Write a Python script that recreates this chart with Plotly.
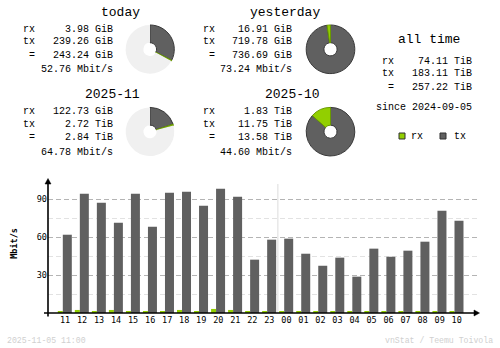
import plotly.graph_objects as go

W, H = 500, 348

# ---------------- data ----------------
hours = ["11", "12", "13", "14", "15", "16", "17", "18", "19", "20", "21", "22",
         "23", "00", "01", "02", "03", "04", "05", "06", "07", "08", "09", "10"]
rx_rate = [0.8, 2.4, 1.6, 2.4, 1.6, 1.6, 1.6, 2.4, 1.6, 3.2, 2.4, 0.8,
           0.8, 1.6, 0.8, 0.8, 0.8, 0.8, 0.8, 0.8, 0.8, 1.6, 1.6, 1.6]
tx_rate = [61.8, 94.2, 87.1, 71.3, 94.2, 68.1, 95.0, 95.8, 84.7, 98.1, 91.8, 42.1,
           57.9, 58.7, 46.8, 37.3, 43.7, 28.7, 50.8, 44.4, 49.2, 56.3, 80.8, 72.9]
y_ticks = [30, 60, 90]
y_minor = [15, 45, 75]

period_titles = ["today", "yesterday", "2025-11", "2025-10"]
period_rx_txt = ["3.98 GiB", "16.91 GiB", "122.73 GiB", "1.83 TiB"]
period_tx_txt = ["239.26 GiB", "719.78 GiB", "2.72 TiB", "11.75 TiB"]
period_tot_txt = ["243.24 GiB", "736.69 GiB", "2.84 TiB", "13.58 TiB"]
period_rate_txt = ["52.76 Mbit/s", "73.24 Mbit/s", "64.78 Mbit/s", "44.60 Mbit/s"]
# values in GiB for pies
period_rx_gib = [3.98, 16.91, 122.73, 1.83 * 1024]
period_tx_gib = [239.26, 719.78, 2.72 * 1024, 11.75 * 1024]

alltime_rx = "74.11 TiB"
alltime_tx = "183.11 TiB"
alltime_tot = "257.22 TiB"
since_txt = "since 2024-09-05"
stamp_txt = "2025-11-05 11:00"
credit_txt = "vnStat / Teemu Toivola"

# ---------------- style ----------------
RX = "#92CF00"
RXD = "#6A9A00"
TX = "#606060"
TXD = "#3A3A3A"
PIEBG = "#F0F0F0"
MONO = "Liberation Mono"
MONO2 = "DejaVu Sans Mono"

# plot area in pixels
PX0, PX1 = 48, 477
PY0, PY1 = 179, 313
STEP = 17.03


def px(x):
    return x / W


def py(y):
    return 1 - y / H


fig = go.Figure()
idx = list(range(len(hours)))

fig.add_trace(go.Bar(x=idx, y=rx_rate, width=5 / STEP, offset=-7.2 / STEP,
                     marker=dict(color=RX, line=dict(width=0)), showlegend=False,
                     hoverinfo="skip"))
fig.add_trace(go.Bar(x=idx, y=tx_rate, width=9 / STEP, offset=-2.2 / STEP,
                     marker=dict(color=TX, line=dict(width=0)), showlegend=False,
                     hoverinfo="skip"))

# ---------------- pies ----------------
pie_centers = [(150, 49.3), (330.5, 49.3), (150, 131.7), (330.5, 131.7)]
R = 24.3
pairs = [(0, 1), (2, 3)]
for a, b in pairs:
    tot_a = period_rx_gib[a] + period_tx_gib[a]
    tot_b = period_rx_gib[b] + period_tx_gib[b]
    mx = max(tot_a, tot_b)
    for i, tot in ((a, tot_a), (b, tot_b)):
        cx, cy = pie_centers[i]
        fig.add_trace(go.Pie(
            values=[period_tx_gib[i], period_rx_gib[i], mx - tot],
            sort=False, direction="clockwise", rotation=0, hole=0.27,
            textinfo="none", hoverinfo="skip", showlegend=False,
            marker=dict(colors=[TX, RX, PIEBG],
                        line=dict(color=[TXD, RXD, PIEBG], width=[1, 1, 0])),
            domain=dict(x=[px(cx - R), px(cx + R)], y=[py(cy + R), py(cy - R)]),
        ))

# ---------------- texts ----------------
ann = []


def text(t, x, y, size=10, anchor="right", color="black", family=MONO):
    ann.append(dict(text=t, x=px(x), y=py(y), xref="paper", yref="paper",
                    xanchor=anchor, yanchor="middle", showarrow=False,
                    font=dict(family=family, size=size, color=color)))


blocks = [  # label_right, value_right, title_right, title_y, rows_y
    (37, 115, 141.7, 12.5, [29.3, 41.3, 55, 69]),
    (217.3, 294.3, 321.7, 12.5, [29.3, 41.3, 55, 69]),
    (37, 115, 141.7, 94.3, [111, 124, 137.3, 152]),
    (217.3, 294.3, 321.7, 94.3, [111, 124, 137.3, 152]),
]
for i, (lr, vr, tr, ty, rows) in enumerate(blocks):
    text(period_titles[i], tr, ty, size=13)
    text("rx", lr, rows[0])
    text("tx", lr, rows[1])
    text("=", lr, rows[2])
    text(period_rx_txt[i], vr, rows[0])
    text(period_tx_txt[i], vr, rows[1])
    text(period_tot_txt[i], vr, rows[2])
    text(period_rate_txt[i], vr, rows[3])

text("all time", 429, 39.5, size=13, anchor="center")
text("rx", 395.7, 61.7)
text("tx", 395.7, 73.3)
text("=", 395.7, 87.7)
text(alltime_rx, 474, 61.7)
text(alltime_tx, 474, 73.3)
text(alltime_tot, 474, 87.7)
text(since_txt, 474, 107.7)

# legend
text("rx", 409, 136, anchor="left")
text("tx", 452, 136, anchor="left")

# footer
text(stamp_txt, 5, 340, size=8.2, anchor="left", color="#D0D0D0")
text(credit_txt, 495, 340, size=8.2, anchor="right", color="#D0D0D0")

# y axis title
ann.append(dict(text="<b>Mbit/s</b>", x=px(14.5), y=py(243.3), xref="paper", yref="paper",
                xanchor="center", yanchor="middle", showarrow=False, textangle=-90,
                font=dict(family=MONO2, size=8.5, color="black")))

# ---------------- shapes ----------------
shapes = []
# legend squares
for x0, col, edge in ((399, RX, "#303030"), (440, TX, "#303030")):
    shapes.append(dict(type="rect", xref="paper", yref="paper",
                       x0=px(x0), x1=px(x0 + 6), y0=py(139), y1=py(133),
                       fillcolor=col, line=dict(color=edge, width=1)))
# separator between days
shapes.append(dict(type="line", xref="x", yref="paper",
                   x0=12.5, x1=12.5, y0=py(PY1), y1=py(184),
                   line=dict(color="#DCDCDC", width=1), layer="below"))
# axes
shapes.append(dict(type="line", xref="paper", yref="paper",
                   x0=px(PX0), x1=px(PX0), y0=py(316.5), y1=py(181),
                   line=dict(color="black", width=1.6)))
shapes.append(dict(type="line", xref="paper", yref="paper",
                   x0=px(44), x1=px(476), y0=py(PY1), y1=py(PY1),
                   line=dict(color="black", width=1.6)))
# arrows
shapes.append(dict(type="path", xref="paper", yref="paper",
                   path=f"M {px(PX0 - 3)},{py(184)} L {px(PX0)},{py(178.5)} L {px(PX0 + 3)},{py(184)} Z",
                   fillcolor="black", line=dict(color="black", width=0.5)))
shapes.append(dict(type="path", xref="paper", yref="paper",
                   path=f"M {px(474)},{py(PY1 - 3)} L {px(479.5)},{py(PY1)} L {px(474)},{py(PY1 + 3)} Z",
                   fillcolor="black", line=dict(color="black", width=0.5)))

fig.update_layout(
    width=W, height=H, margin=dict(l=0, r=0, t=0, b=0),
    paper_bgcolor="white", plot_bgcolor="white",
    barmode="overlay", annotations=ann, shapes=shapes,
    xaxis=dict(domain=[px(PX0), px(PX1)], range=[-(65 - PX0) / STEP, (PX1 - 65) / STEP],
               tickvals=idx, ticktext=hours, showgrid=False, zeroline=False,
               showline=False, ticks="", tickfont=dict(family=MONO2, size=8.5, color="black"),
               fixedrange=True),
    yaxis=dict(domain=[py(PY1), py(PY0)], range=[0, (PY1 - PY0) / 38 * 30],
               tickvals=y_ticks, showgrid=True, gridcolor="#B4B4B4", griddash="5px,3px",
               gridwidth=1, zeroline=False, showline=False, ticks="",
               tickfont=dict(family=MONO2, size=8.5, color="black"),
               minor=dict(tickvals=y_minor, showgrid=True, gridcolor="#E2E2E2",
                          griddash="5px,3px", gridwidth=1),
               fixedrange=True),
)

fig.write_html("out.html")
